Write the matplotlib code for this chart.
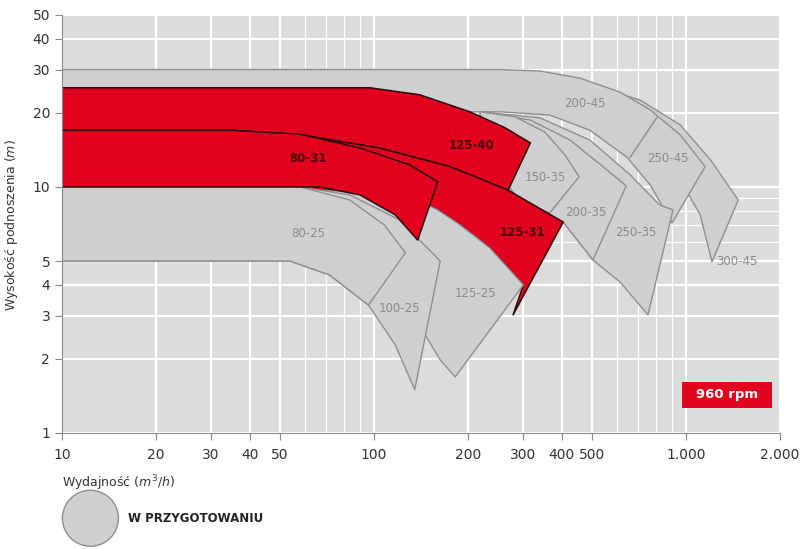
import matplotlib
matplotlib.use("Agg")
import matplotlib.pyplot as plt
from matplotlib.patches import Ellipse, Rectangle
from matplotlib.ticker import FixedLocator, NullFormatter

# ---- data: outlines of pump ranges (Q m3/h, H m) ----
s300_45_Q = [394, 529, 710, 957, 1197, 1469, 1211, 1110, 957, 767, 529]
s300_45_H = [26.0, 25.3, 22.6, 17.9, 12.9, 8.85, 4.96, 7.7, 10.7, 14.1, 17.9]

s45_Q = [10, 254, 340, 457, 614, 767, 957, 1151, 902, 767, 647, 492, 366, 254, 10]
s45_H = [30, 30, 29.6, 27.7, 24.3, 20.6, 16.3, 12.1, 7.14, 10.2, 13.2, 17.0, 19.6, 20.2, 20.2]
div45_Q = [807, 662]
div45_H = [19.2, 13.2]

s250_35_Q = [219, 340, 492, 662, 823, 908, 755, 614, 503, 404, 300, 219]
s250_35_H = [20.2, 19.1, 15.5, 11.2, 8.45, 8.07, 3.02, 4.11, 5.05, 7.2, 8.5, 14.0]

s200_35_Q = [219, 317, 425, 550, 643, 503, 404, 300, 219]
s200_35_H = [20.2, 18.7, 15.5, 11.9, 10.1, 5.05, 7.2, 8.5, 14.0]

s150_35_Q = [219, 283, 353, 409, 454, 366, 300, 219]
s150_35_H = [20.2, 19.3, 16.7, 13.5, 11.0, 7.85, 8.5, 14.0]

top17_Q = [10, 34.5, 57.9, 104, 175, 269, 404]
top17_H = [17, 17, 16.3, 14.4, 12.1, 9.7, 7.2]

s125_40_Q = [10, 97, 140, 203, 263, 317]
s125_40_H = [25.3, 25.3, 23.7, 20.2, 17.4, 15.1]

low125_Q = [301, 235, 189, 160, 121, 10]
low125_H = [4.0, 5.65, 7.0, 8.07, 9.55, 10]
s125_31_tip_Q = [279]
s125_31_tip_H = [3.02]

s125_25_Q = [182, 163, 146, 130, 110, 60]
s125_25_H = [1.69, 1.98, 2.5, 3.02, 4.5, 9.5]

s100_25_Q = [10, 57.9, 83.6, 121, 163, 135, 117, 96, 72, 53.8, 10]
s100_25_H = [10, 10, 9.28, 7.34, 5.0, 1.5, 2.28, 3.31, 4.39, 5.0, 5.0]

s80_25_Q = [10, 57.9, 83.6, 108, 126, 96, 72, 53.8, 10]
s80_25_H = [10, 10, 8.85, 7.0, 5.4, 3.31, 4.39, 5.0, 5.0]

s80_31_Q = [10, 34.5, 57.9, 90.2, 130, 160, 138, 117, 90.2, 67.1, 10]
s80_31_H = [17, 17, 16.4, 14.4, 12.3, 10.5, 6.08, 7.7, 9.28, 10, 10]

label_names = ["200-45", "250-45", "300-45", "150-35", "200-35", "250-35",
               "125-40", "125-31", "80-31", "80-25", "100-25", "125-25"]
label_Q = [474, 875, 1456, 353, 477, 692, 206, 298, 61.4, 61.4, 121, 211]
label_H = [21.8, 13.0, 5.0, 10.9, 7.9, 6.5, 14.8, 6.5, 13.0, 6.45, 3.22, 3.7]
label_red = [False, False, False, False, False, False, True, True, True, False, False, False]

x_ticks = [10, 20, 30, 40, 50, 100, 200, 300, 400, 500, 1000, 2000]
x_ticklabels = ["10", "20", "30", "40", "50", "100", "200", "300", "400", "500", "1.000", "2.000"]
y_ticks = [1, 2, 3, 4, 5, 10, 20, 30, 40, 50]

BG = "#dcdcdc"
GRAY = "#cfcfd1"
GEDGE = "#8e8e8e"
RED = "#e2001f"
REDGE = "#2a0a0a"

fig = plt.figure(figsize=(8, 5.49), dpi=100)
ax = fig.add_axes([0.0775, 0.2113, 0.8975, 0.7614])
ax.set_xscale("log"); ax.set_yscale("log")
ax.set_xlim(10, 2000); ax.set_ylim(1, 50)
ax.set_facecolor(BG)

minor_x = [m * 10 ** e for e in (1, 2, 3) for m in range(2, 10) if m * 10 ** e < 2000]
minor_y = [m * 10 ** e for e in (0, 1) for m in range(2, 10) if m * 10 ** e < 50]
ax.xaxis.set_minor_locator(FixedLocator(minor_x))
ax.yaxis.set_minor_locator(FixedLocator(minor_y))
ax.xaxis.set_minor_formatter(NullFormatter())
ax.yaxis.set_minor_formatter(NullFormatter())
ax.grid(True, which="major", color="white", lw=1.6)
ax.grid(True, which="minor", color="white", lw=0.9)
ax.set_axisbelow(True)

def shape(Q, H, fc, ec, lw=1.0):
    ax.fill(Q, H, facecolor=fc, edgecolor=ec, lw=lw, joinstyle="round", zorder=2)

shape(s300_45_Q, s300_45_H, GRAY, GEDGE)
shape(s45_Q, s45_H, GRAY, GEDGE)
ax.plot(div45_Q, div45_H, color=GEDGE, lw=1.0, zorder=2)
shape(s250_35_Q, s250_35_H, GRAY, GEDGE)
shape(s200_35_Q, s200_35_H, GRAY, GEDGE)
shape(s150_35_Q, s150_35_H, GRAY, GEDGE)
shape(s125_40_Q + top17_Q[::-1][1:-1] + [10], s125_40_H + top17_H[::-1][1:-1] + [17], RED, REDGE, 1.1)
shape(top17_Q + s125_31_tip_Q + low125_Q, top17_H + s125_31_tip_H + low125_H, RED, REDGE, 1.1)
shape(low125_Q[::-1] + s125_25_Q, low125_H[::-1] + s125_25_H, GRAY, GEDGE)
shape(s100_25_Q, s100_25_H, GRAY, GEDGE)
shape(s80_25_Q, s80_25_H, GRAY, GEDGE)
shape(s80_31_Q, s80_31_H, RED, REDGE, 1.1)

for n, q, h, r in zip(label_names, label_Q, label_H, label_red):
    ax.text(q, h, n, ha="center", va="center", fontsize=8.5, zorder=5,
            color="#4a0008" if r else "#8a8a8a", fontweight="bold" if r else "normal")

ax.set_xticks(x_ticks); ax.set_xticklabels(x_ticklabels)
ax.set_yticks(y_ticks); ax.set_yticklabels([str(v) for v in y_ticks])
ax.tick_params(which="major", length=5, color="#888888", labelsize=10, labelcolor="#333333")
ax.tick_params(which="minor", length=0)
ax.tick_params(axis="x", pad=6)
for s in ("top", "right"):
    ax.spines[s].set_visible(False)
ax.spines["left"].set_color("#888888")
ax.spines["bottom"].set_color("#888888")

ax.add_patch(Rectangle((0.864, 0.06), 0.125, 0.062, transform=ax.transAxes,
                       facecolor=RED, edgecolor="none", zorder=6))
ax.text(0.926, 0.091, "960 rpm", transform=ax.transAxes, ha="center", va="center",
        color="white", fontsize=9.5, fontweight="bold", zorder=7)

fig.text(0.0775, 0.12, r"Wydajność ($m^3/h$)", fontsize=9, color="#333333", va="center")
fig.text(0.015, 0.59, r"Wysokość podnoszenia ($m$)", fontsize=9, color="#333333",
         rotation=90, ha="center", va="center")
fig.patches.append(Ellipse((0.113, 0.056), 0.07, 0.102, transform=fig.transFigure,
                           facecolor=GRAY, edgecolor=GEDGE, lw=1.0))
fig.text(0.16, 0.056, "W PRZYGOTOWANIU", fontsize=8.5, fontweight="bold",
         color="#222222", va="center")

fig.savefig("out.png", dpi=100)
